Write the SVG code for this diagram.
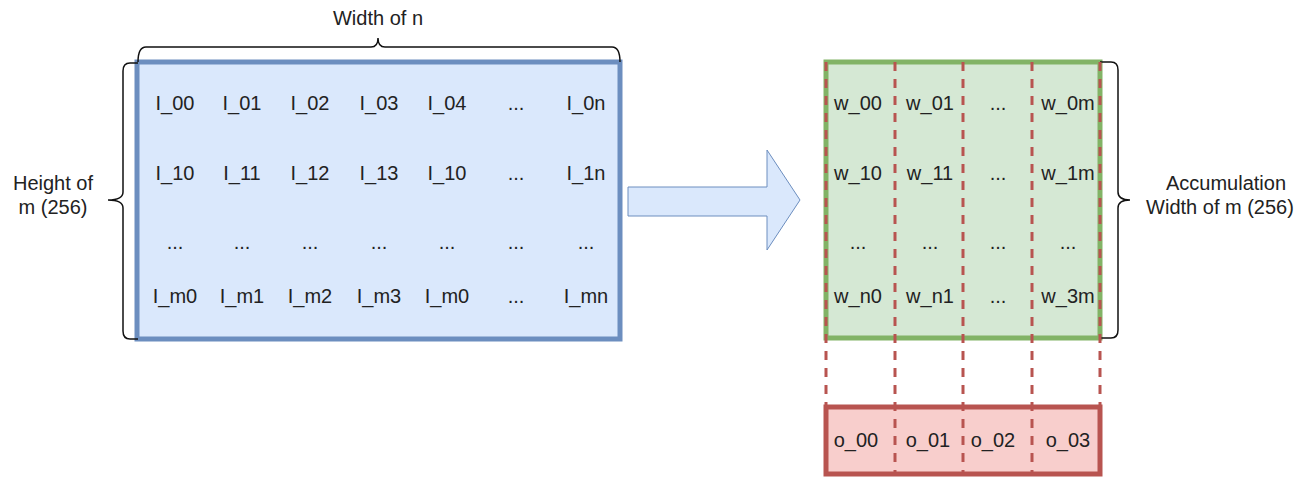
<svg xmlns="http://www.w3.org/2000/svg" width="1299" height="477" viewBox="0 0 1299 477">
  <style>
    .t { font-family: "Liberation Sans", Arial, sans-serif; font-size: 20px; fill: #222; text-anchor: middle; }
    .brace { fill: none; stroke: #111; stroke-width: 1.5; }
    .dash { fill: none; stroke: #b85450; stroke-width: 3; stroke-dasharray: 9 8; }
  </style>
  <rect width="1299" height="477" fill="#ffffff"/>

  <!-- input matrix -->
  <g id="input-matrix">
    <rect x="137" y="62" width="483" height="277" fill="#dae8fc" stroke="#6c8ebf" stroke-width="5"/>
    <g class="t">
      <text x="175" y="110">I_00</text><text x="242" y="110">I_01</text><text x="310" y="110">I_02</text><text x="379" y="110">I_03</text><text x="447" y="110">I_04</text><text x="516" y="110">...</text><text x="586" y="110">I_0n</text>
      <text x="175" y="180">I_10</text><text x="242" y="180">I_11</text><text x="310" y="180">I_12</text><text x="379" y="180">I_13</text><text x="447" y="180">I_10</text><text x="516" y="180">...</text><text x="586" y="180">I_1n</text>
      <text x="175" y="249">...</text><text x="242" y="249">...</text><text x="310" y="249">...</text><text x="379" y="249">...</text><text x="447" y="249">...</text><text x="516" y="249">...</text><text x="586" y="249">...</text>
      <text x="175" y="303">I_m0</text><text x="242" y="303">I_m1</text><text x="310" y="303">I_m2</text><text x="379" y="303">I_m3</text><text x="447" y="303">I_m0</text><text x="516" y="303">...</text><text x="586" y="303">I_mn</text>
    </g>
  </g>

  <!-- width brace -->
  <g id="width-brace">
    <path class="brace" d="M 138 62 Q 138 47 146 47 L 371 47 Q 378 47 378 38 Q 378 47 385 47 L 612 47 Q 620 47 620 62"/>
    <text class="t" x="378" y="25">Width of n</text>
  </g>

  <!-- height brace -->
  <g id="height-brace">
    <path class="brace" d="M 138 63 L 130 63 Q 123 63 123 71 L 123 192 Q 123 200 108 200 Q 123 200 123 208 L 123 331 Q 123 339 130 339 L 138 339"/>
    <text class="t" x="53" y="190">Height of</text>
    <text class="t" x="53" y="214">m (256)</text>
  </g>

  <!-- transform arrow -->
  <g id="transform-arrow">
    <path d="M 628 187 L 767 187 L 767 150 L 800 200 L 767 250 L 767 216 L 628 216 Z" fill="#dae8fc" stroke="#6c8ebf" stroke-width="1"/>
  </g>

  <!-- weight matrix -->
  <g id="weight-matrix">
    <rect x="826" y="62" width="274" height="276" fill="#d5e8d4" stroke="#82b366" stroke-width="5"/>
    <g class="t">
      <text x="858" y="110">w_00</text><text x="930" y="110">w_01</text><text x="998" y="110">...</text><text x="1068" y="110">w_0m</text>
      <text x="858" y="180">w_10</text><text x="930" y="180">w_11</text><text x="998" y="180">...</text><text x="1068" y="180">w_1m</text>
      <text x="858" y="249">...</text><text x="930" y="249">...</text><text x="998" y="249">...</text><text x="1068" y="249">...</text>
      <text x="858" y="303">w_n0</text><text x="930" y="303">w_n1</text><text x="998" y="303">...</text><text x="1068" y="303">w_3m</text>
    </g>
  </g>

  <!-- accumulation brace -->
  <g id="accumulation-brace">
    <path class="brace" d="M 1100 62 L 1111 62 Q 1118 62 1118 70 L 1118 192 Q 1118 200 1130 200 Q 1118 200 1118 208 L 1118 330 Q 1118 338 1111 338 L 1100 338"/>
    <text class="t" x="1226" y="190">Accumulation</text>
    <text class="t" x="1220" y="214">Width of m (256)</text>
  </g>

  <!-- output row -->
  <g id="output-row">
    <rect x="826" y="407" width="274" height="67" fill="#f8cecc" stroke="#b85450" stroke-width="5"/>
    <g class="t">
      <text x="856" y="447">o_00</text><text x="928" y="447">o_01</text><text x="993" y="447">o_02</text><text x="1068" y="447">o_03</text>
    </g>
  </g>

  <!-- column connectors -->
  <g id="connectors">
    <line class="dash" x1="826" y1="62" x2="826" y2="474"/>
    <line class="dash" x1="895" y1="62" x2="895" y2="474"/>
    <line class="dash" x1="963" y1="62" x2="963" y2="474"/>
    <line class="dash" x1="1032" y1="62" x2="1032" y2="474"/>
    <line class="dash" x1="1100" y1="62" x2="1100" y2="474"/>
  </g>
</svg>
